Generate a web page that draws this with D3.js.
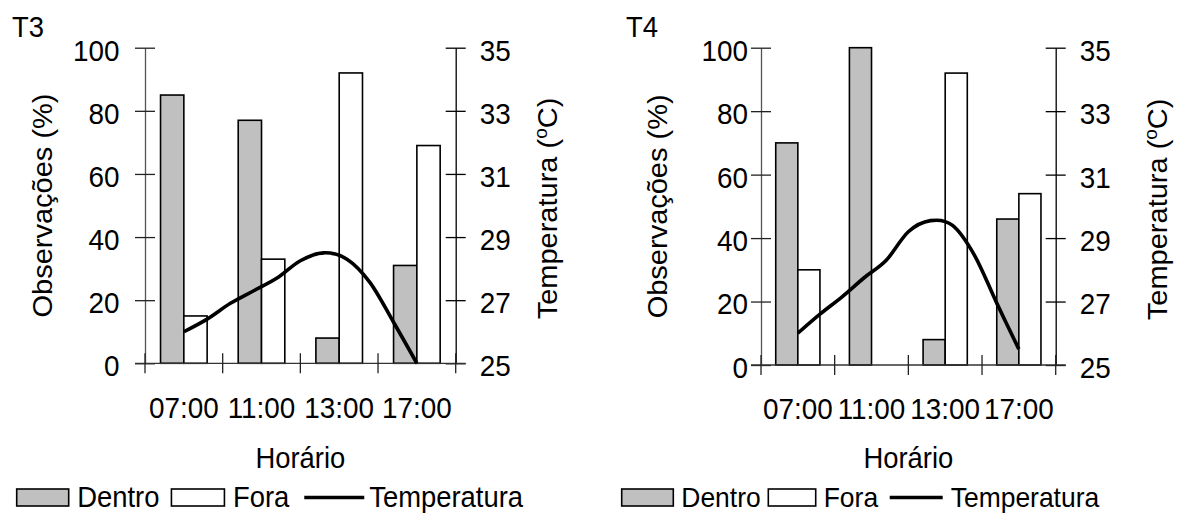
<!DOCTYPE html>
<html>
<head>
<meta charset="utf-8">
<script src="https://cdn.jsdelivr.net/npm/d3@7"></script>
<style>
body { margin: 0; background: #fff; }
svg { display: block; font-family: "Liberation Sans", Arial, sans-serif; }
</style>
</head>
<body>
<svg width="1177" height="522"></svg>
<script>
// categorias do eixo x
var horarios = ['07:00', '11:00', '13:00', '17:00'];

// observacoes (%)
var dentroT3 = [85, 77, 8, 31];
var foraT3 = [15, 33, 92, 69];
var dentroT4 = [70, 100, 8, 46];
var foraT4 = [30, 0, 92, 54];

// temperatura horaria (C)
var horasTemp = [7, 8, 9, 10, 11, 12, 13, 14, 15, 16, 17];
var tempT3 = [26.0, 26.4, 26.9, 27.3, 27.7, 28.25, 28.5, 28.3, 27.55, 26.3, 25.0];
var tempT4 = [26.0, 26.6, 27.15, 27.75, 28.3, 29.2, 29.55, 29.4, 28.45, 26.95, 25.5];

var obsTicks = [0, 20, 40, 60, 80, 100];
var tempTicks = [25, 27, 29, 31, 33, 35];

var svg = d3.select('svg');
var fontTick = 29.5, fontTitle = 29;
var SX = 0.945; // the original figure is a little narrower than tall

function squeeze(sel) {
	sel.each(function() {
		var t = d3.select(this);
		var x = +t.attr('x') || 0;
		t.attr('x', x / SX).attr('transform', 'scale(' + SX + ',1)');
	});
}

function label(g, x, y, txt, anchor, rot, size) {
	return g.append('text')
		.attr('transform', 'translate(' + x + ',' + y + ') scale(' + SX + ',1)' + (rot ? ' rotate(-90)' : ''))
		.attr('text-anchor', anchor || 'start')
		.attr('font-size', size || fontTitle)
		.text(txt);
}

function panel(o) {
	var g = svg.append('g');

	var x = d3.scaleBand().domain(horarios).range([o.left, o.right]);
	var bw = x.bandwidth();
	var xs = d3.scaleBand().domain(['dentro', 'fora']).range([bw * 0.2, bw * 0.8]);
	var y = d3.scaleLinear().domain([0, 100]).range([o.bottom, o.top]);
	var yt = d3.scaleLinear().domain([25, 35]).range([o.bottom, o.top]);
	var xt = d3.scaleLinear().domain([7, 17])
		.range([x(horarios[0]) + bw / 2, x(horarios[horarios.length - 1]) + bw / 2]);

	// bars
	var rows = horarios.map(function(h, i) {
		return {h: h, dentro: o.dentro[i], fora: o.fora[i]};
	});
	var grp = g.selectAll('g.grp').data(rows).enter().append('g')
		.attr('transform', function(d) { return 'translate(' + x(d.h) + ',0)'; });
	grp.selectAll('rect')
		.data(function(d) { return [{k: 'dentro', v: d.dentro}, {k: 'fora', v: d.fora}]; })
		.enter().append('rect')
		.attr('x', function(d) { return xs(d.k); })
		.attr('y', function(d) { return y(d.v); })
		.attr('width', xs.bandwidth())
		.attr('height', function(d) { return y(0) - y(d.v); })
		.attr('fill', function(d) { return d.k == 'dentro' ? '#c0c0c0' : '#fff'; })
		.attr('stroke', '#000')
		.attr('stroke-width', 1.6);

	// left axis
	var ax = g.append('g')
		.attr('transform', 'translate(' + o.left + ',0)')
		.call(d3.axisLeft(y).tickValues(obsTicks).tickSize(10).tickSizeOuter(0).tickPadding(o.padL));
	ax.attr('font-size', fontTick).attr('font-family', null);
	ax.select('.domain').attr('stroke', '#555').attr('stroke-width', 1.3);
	ax.selectAll('.tick line').attr('x1', 10).attr('stroke', '#222').attr('stroke-width', 1.3);
	ax.selectAll('.tick text').attr('dy', '0.42em').call(squeeze);

	// right axis
	var ar = g.append('g')
		.attr('transform', 'translate(' + o.right + ',0)')
		.call(d3.axisRight(yt).tickValues(tempTicks).tickSize(10).tickSizeOuter(0).tickPadding(14));
	ar.attr('font-size', fontTick).attr('font-family', null);
	ar.select('.domain').attr('stroke', '#000').attr('stroke-width', 1.3);
	ar.selectAll('.tick line').attr('x1', -10).attr('stroke-width', 1.3);
	ar.selectAll('.tick text').attr('dy', '0.42em').call(squeeze);

	// x axis
	var axb = g.append('g')
		.attr('transform', 'translate(0,' + o.bottom + ')')
		.call(d3.axisBottom(x).tickSize(0).tickPadding(o.padX));
	axb.attr('font-size', fontTick).attr('font-family', null);
	axb.select('.domain').remove();
	axb.selectAll('.tick text').call(squeeze);
	axb.append('line')
		.attr('x1', o.left - 10).attr('x2', o.right + 10)
		.attr('stroke', '#333').attr('stroke-width', 1.3);
	var cuts = horarios.map(function(h) { return x(h); }).concat([x.range()[1]]);
	axb.selectAll('line.cut').data(cuts).enter().append('line')
		.attr('class', 'cut')
		.attr('x1', function(d) { return d; }).attr('x2', function(d) { return d; })
		.attr('y1', -10).attr('y2', 10)
		.attr('stroke', '#222').attr('stroke-width', 1.3);

	// temperature line
	var line = d3.line()
		.x(function(d, i) { return xt(horasTemp[i]); })
		.y(function(d) { return yt(d); })
		.curve(d3.curveCardinal.tension(0));
	g.append('path')
		.datum(o.temp)
		.attr('d', line)
		.attr('fill', 'none')
		.attr('stroke', '#000')
		.attr('stroke-width', 3.6)
		.attr('stroke-linejoin', 'round');

	// titles
	label(g, o.tagX, 37, o.tag);
	label(g, o.titleL, (o.top + o.bottom) / 2, 'Observações (%)', 'middle', true);

	var tr = label(g, o.titleR, (o.top + o.bottom) / 2 + 3, '', 'middle', true);
	tr.append('tspan').text('Temperatura (');
	tr.append('tspan').attr('font-size', 19).attr('dy', -10).text('o');
	tr.append('tspan').attr('dy', 10).text('C)');

	label(g, (o.left + o.right) / 2, 468, 'Horário', 'middle');

	// legend
	var L = o.leg, cx = L.x0;
	g.append('rect').attr('x', cx).attr('y', 489).attr('width', L.boxW).attr('height', 17)
		.attr('fill', '#c0c0c0').attr('stroke', '#000').attr('stroke-width', 1.6);
	cx += L.boxW + L.g1;
	var t1 = label(g, cx, 507, 'Dentro', null, false, L.font);
	cx += t1.node().getComputedTextLength() * SX + L.g2;
	g.append('rect').attr('x', cx).attr('y', 489).attr('width', L.boxW2).attr('height', 17)
		.attr('fill', '#fff').attr('stroke', '#000').attr('stroke-width', 1.6);
	cx += L.boxW2 + L.g1;
	var t2 = label(g, cx, 507, 'Fora', null, false, L.font);
	cx += t2.node().getComputedTextLength() * SX + L.g3;
	g.append('line').attr('x1', cx).attr('x2', cx + L.lineW).attr('y1', 497.5).attr('y2', 497.5)
		.attr('stroke', '#000').attr('stroke-width', 3.6);
	cx += L.lineW + L.g4;
	label(g, cx, 507, 'Temperatura', null, false, L.font);
}

panel({
	left: 145, right: 455.7, top: 47.7, bottom: 363.3,
	dentro: dentroT3, fora: foraT3, temp: tempT3,
	padL: 15.5, padX: 34, tag: 'T3', tagX: 12,
	titleL: 51.5, titleR: 556.5,
	leg: {x0: 16.7, boxW: 52, boxW2: 53, g1: 8.5, g2: 12, g3: 15, lineW: 60, g4: 5, font: 29}
});

panel({
	left: 761, right: 1055.7, top: 47.7, bottom: 365,
	dentro: dentroT4, fora: foraT4, temp: tempT4,
	padL: 3, padX: 33, tag: 'T4', tagX: 626,
	titleL: 666.5, titleR: 1166.5,
	leg: {x0: 621.7, boxW: 51.6, boxW2: 47.4, g1: 8, g2: 7.6, g3: 11.6, lineW: 53, g4: 8, font: 28}
});
</script>
</body>
</html>
